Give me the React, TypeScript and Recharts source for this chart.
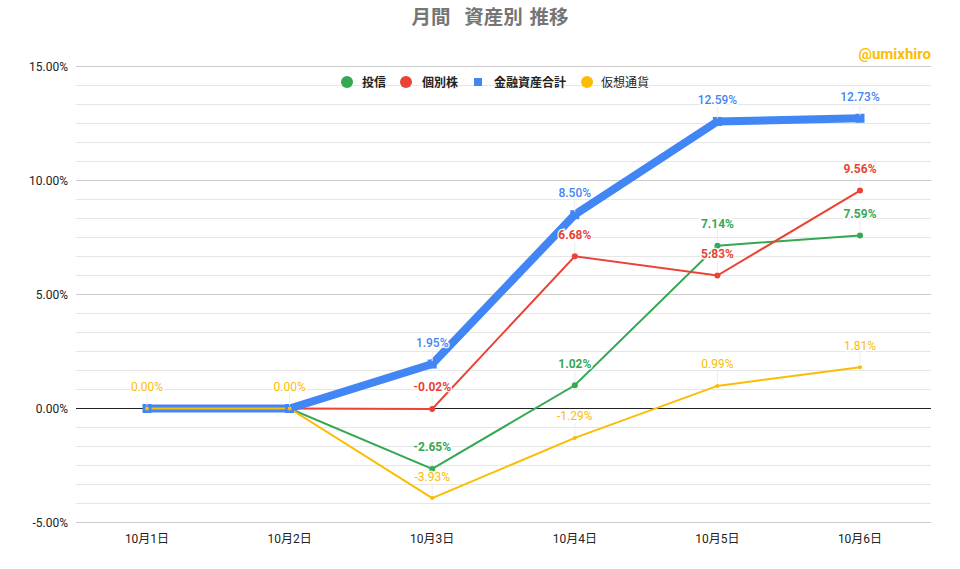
import React from "react";
import { LineChart, Line, XAxis, YAxis, ReferenceLine } from "recharts";

const categories = ["10月1日", "10月2日", "10月3日", "10月4日", "10月5日", "10月6日"];
const fund = [0, 0, -2.65, 1.02, 7.14, 7.59];
const stock = [0, 0, -0.02, 6.68, 5.83, 9.56];
const total = [0, 0, 1.95, 8.5, 12.59, 12.73];
const crypto = [0, 0, -3.93, -1.29, 0.99, 1.81];
const majorTicks = [-5, 0, 5, 10, 15];
const minorTicks = [
  -4.1667, -3.3333, -2.5, -1.6667, -0.8333, 0.8333, 1.6667, 2.5, 3.3333, 4.1667, 5.8333, 6.6667, 7.5, 8.3333, 9.1667,
  10.8333, 11.6667, 12.5, 13.3333, 14.1667,
];

const GREEN = "#34a853";
const RED = "#ea4335";
const BLUE = "#4285f4";
const YELLOW = "#fbbc04";
const FONT = 'Roboto, "Noto Sans CJK JP", sans-serif';

const data = categories.map((day, i) => ({
  day,
  fund: fund[i],
  stock: stock[i],
  total: total[i],
  crypto: crypto[i],
}));

const legendItems = [
  { name: "投信", color: GREEN, shape: "circle", x: 341, tx: 362, bold: true },
  { name: "個別株", color: RED, shape: "circle", x: 400, tx: 422, bold: true },
  { name: "金融資産合計", color: BLUE, shape: "square", x: 473, tx: 494, bold: true },
  { name: "仮想通貨", color: YELLOW, shape: "circle", x: 581, tx: 601, bold: false },
];

const makeLabel = (color: string, weight: number, hideZero: boolean) => (props: any) => {
  const { x, y, value } = props;
  if (hideZero && value === 0) return null;
  return (
    <g>
      <line x1={x} x2={x} y1={y - 15} y2={y - 3} stroke="#ececec" strokeWidth={1} />
      <text
        x={x}
        y={y - 17.5}
        textAnchor="middle"
        fontFamily={FONT}
        fontSize={12}
        fontWeight={weight}
        fill={color}
        stroke="#fff"
        strokeWidth={3}
        strokeOpacity={0.9}
        paintOrder="stroke"
      >
        {value.toFixed(2)}%
      </text>
    </g>
  );
};

const squareDot = (props: any) => {
  const { cx, cy, index } = props;
  return <rect key={index} x={cx - 4.5} y={cy - 4.5} width={9} height={9} fill={BLUE} />;
};

const App = () => (
  <div style={{ position: "absolute", left: 0, top: 0, width: 960, height: 569, background: "#fff", fontFamily: FONT }}>
    <LineChart width={960} height={569} data={data} margin={{ top: 66.5, right: 29, bottom: 0, left: 0 }}>
      <XAxis
        dataKey="day"
        padding={{ left: 71, right: 71 }}
        axisLine={false}
        tickLine={false}
        tick={{ fontSize: 12, fill: "#222", fontFamily: FONT }}
        tickMargin={6}
        height={46.5}
        interval={0}
      />
      <YAxis
        domain={[-5, 15]}
        ticks={majorTicks}
        width={76}
        axisLine={false}
        tickLine={false}
        tick={{ fontSize: 12, fill: "#222", fontFamily: FONT }}
        tickFormatter={(v: number) => `${v.toFixed(2)}%`}
        tickMargin={2}
        interval={0}
      />
      {minorTicks.map((v) => (
        <ReferenceLine key={v} y={v} stroke="#e6e6e6" strokeWidth={1} />
      ))}
      {majorTicks.map((v) => (
        <ReferenceLine key={v} y={v} stroke={v === 0 ? "#222" : "#ccc"} strokeWidth={1} />
      ))}
      <Line dataKey="fund" stroke={GREEN} strokeWidth={2} dot={{ r: 3, fill: GREEN, stroke: GREEN, strokeWidth: 0 }} isAnimationActive={false} />
      <Line dataKey="stock" stroke={RED} strokeWidth={2} dot={{ r: 3, fill: RED, stroke: RED, strokeWidth: 0 }} isAnimationActive={false} />
      <Line dataKey="total" stroke={BLUE} strokeWidth={8} strokeLinejoin="miter" dot={squareDot} isAnimationActive={false} />
      <Line dataKey="crypto" stroke={YELLOW} strokeWidth={2} dot={{ r: 2, fill: YELLOW, stroke: YELLOW, strokeWidth: 0 }} isAnimationActive={false} />
      <Line dataKey="fund" stroke="none" dot={false} label={makeLabel(GREEN, 700, true)} isAnimationActive={false} />
      <Line dataKey="stock" stroke="none" dot={false} label={makeLabel(RED, 700, true)} isAnimationActive={false} />
      <Line dataKey="total" stroke="none" dot={false} label={makeLabel(BLUE, 500, true)} isAnimationActive={false} />
      <Line dataKey="crypto" stroke="none" dot={false} label={makeLabel(YELLOW, 400, false)} isAnimationActive={false} />
    </LineChart>

    <div style={{ position: "absolute", left: 0, width: 980, top: 6, textAlign: "center", fontSize: 19.5, fontWeight: 700, color: "#757575", whiteSpace: "pre", lineHeight: "24px", wordSpacing: 2 }}>
      {"月間  資産別 推移"}
    </div>
    <div style={{ position: "absolute", right: 29, top: 45, fontSize: 15, fontWeight: 700, color: YELLOW, lineHeight: "18px" }}>
      @umixhiro
    </div>
    {legendItems.map((it) => (
      <React.Fragment key={it.name}>
        <span
          style={{
            position: "absolute",
            left: it.shape === "circle" ? it.x : it.x + 1,
            top: it.shape === "circle" ? 76 : 78,
            width: it.shape === "circle" ? 12 : 8,
            height: it.shape === "circle" ? 12 : 8,
            borderRadius: it.shape === "circle" ? "50%" : 0,
            background: it.color,
          }}
        />
        <span
          style={{
            position: "absolute",
            left: it.tx,
            top: 75,
            fontSize: 12,
            lineHeight: "16px",
            fontWeight: it.bold ? 700 : 400,
            color: "#222",
            whiteSpace: "nowrap",
          }}
        >
          {it.name}
        </span>
      </React.Fragment>
    ))}
  </div>
);

export default App;
